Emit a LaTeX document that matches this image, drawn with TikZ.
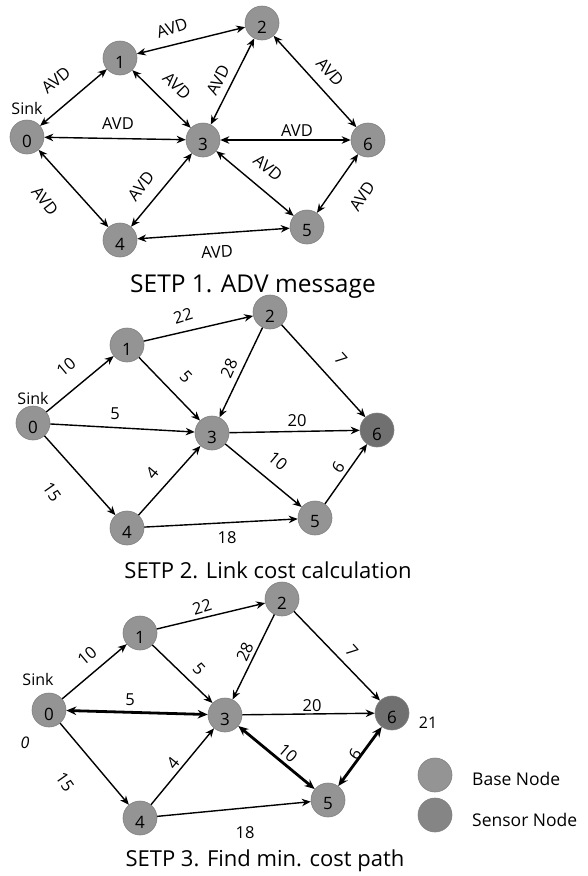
\documentclass[tikz,border=0pt]{standalone}
\usepackage{fontspec}
\setmainfont{Open Sans}
\usetikzlibrary{arrows.meta}
\begin{document}
\begin{tikzpicture}[x=1pt,y=-1pt,
  nd/.style={circle,minimum size=34pt,inner sep=0pt,draw=black!50,line width=0.6pt,fill=black!42},
  ndd/.style={nd,fill=black!56},
  nl/.style={font=\fontsize{17}{17}\selectfont,yshift=-4pt,inner sep=0pt},
  arr/.style={line width=1.4pt,-{Stealth[length=9pt,width=7.5pt]}},
  barr/.style={line width=1.4pt,{Stealth[length=9pt,width=7.5pt]}-{Stealth[length=9pt,width=7.5pt]}},
  tarr/.style={line width=2.8pt,{Stealth[length=10pt,width=8.5pt]}-{Stealth[length=10pt,width=8.5pt]}},
  lbl/.style={font=\fontsize{16.5}{16.5}\selectfont,inner sep=1pt},
  ttl/.style={inner sep=0pt,anchor=base},
  sink/.style={font=\fontsize{16}{16}\selectfont,inner sep=0pt},
  leg/.style={font=\fontsize{17.5}{17.5}\selectfont,inner sep=0pt,anchor=west}]
\fill[white] (0,0) rectangle (587,876);
\useasboundingbox (0,0) rectangle (587,876);

% ---------- Panel 1 ----------
\node[nd,label={[nl]center:0}] (a0) at (27,137) {};
\node[nd,label={[nl]center:1}] (a1) at (120,58) {};
\node[nd,label={[nl]center:2}] (a2) at (262,23) {};
\node[nd,label={[nl]center:3}] (a3) at (203,140) {};
\node[nd,label={[nl]center:4}] (a4) at (120,240) {};
\node[nd,label={[nl]center:5}] (a5) at (307,227) {};
\node[nd,label={[nl]center:6}] (a6) at (368,140) {};
\node[sink] (as) at (27,108) {Sink};
\draw[barr] (a0) -- (a1);
\draw[barr] (a1) -- (a2);
\draw[barr] (a1) -- (a3);
\draw[barr] (a3) -- (a2);
\draw[barr] (a2) -- (a6);
\draw[barr] (a0) -- (a3);
\draw[barr] (a3) -- (a6);
\draw[barr] (a0) -- (a4);
\draw[barr] (a4) -- (a3);
\draw[barr] (a3) -- (a5);
\draw[barr] (a5) -- (a6);
\draw[barr] (a4) -- (a5);
\node[lbl,rotate=40] at (56,80) {AVD};
\node[lbl,rotate=18] at (172,28) {AVD};
\node[lbl,rotate=-45] at (177,86) {AVD};
\node[lbl,rotate=63] at (218,80) {AVD};
\node[lbl,rotate=-48] at (330,72) {AVD};
\node[lbl] at (118,124) {AVD};
\node[lbl] at (297,131) {AVD};
\node[lbl,rotate=-52] at (45,201) {AVD};
\node[lbl,rotate=52] at (141,186) {AVD};
\node[lbl,rotate=-40] at (268,168) {AVD};
\node[lbl,rotate=57] at (362,196) {AVD};
\node[lbl,rotate=3] at (217,252) {AVD};
\node[ttl,font=\fontsize{24.5}{24.5}\selectfont] (t1) at (253,292) {SETP 1. ADV message};

% ---------- Panel 2 ----------
\node[nd,label={[nl]center:0}] (b0) at (33,423) {};
\node[nd,label={[nl]center:1}] (b1) at (127,345) {};
\node[nd,label={[nl]center:2}] (b2) at (270,312) {};
\node[nd,label={[nl]center:3}] (b3) at (212,433) {};
\node[nd,label={[nl]center:4}] (b4) at (127,528) {};
\node[nd,label={[nl]center:5}] (b5) at (315,518) {};
\node[ndd,label={[nl]center:6}] (b6) at (377,430) {};
\node[sink] (bs) at (33,398) {Sink};
\draw[arr] (b0) -- (b1);
\draw[arr] (b1) -- (b2);
\draw[arr] (b1) -- (b3);
\draw[arr] (b2) -- (b3);
\draw[arr] (b2) -- (b6);
\draw[arr] (b0) -- (b3);
\draw[arr] (b3) -- (b6);
\draw[arr] (b3) -- (b5);
\draw[arr] (b0) -- (b4);
\draw[arr] (b4) -- (b3);
\draw[arr] (b4) -- (b5);
\draw[arr] (b5) -- (b6);
\node[lbl,rotate=17] at (183,316) {22};
\node[lbl,rotate=40] at (66,367) {10};
\node[lbl,rotate=-46] at (186,377) {5};
\node[lbl,rotate=66] at (229,368) {28};
\node[lbl,rotate=-48] at (341,359) {7};
\node[lbl] at (115,414) {5};
\node[lbl] at (297,421) {20};
\node[lbl,rotate=-40] at (278,461) {10};
\node[lbl,rotate=56] at (338,467) {6};
\node[lbl,rotate=-55] at (52,492) {15};
\node[lbl,rotate=50] at (152,473) {4};
\node[lbl] at (227,538) {18};
\node[ttl,font=\fontsize{22}{22}\selectfont] (t2) at (268,578) {SETP 2. Link cost calculation};

% ---------- Panel 3 ----------
\node[nd,label={[nl]center:0}] (c0) at (49,710) {};
\node[nd,label={[nl]center:1}] (c1) at (140,633) {};
\node[nd,label={[nl]center:2}] (c2) at (282,599) {};
\node[nd,label={[nl]center:3}] (c3) at (225,715) {};
\node[nd,label={[nl]center:4}] (c4) at (140,818) {};
\node[nd,label={[nl]center:5}] (c5) at (328,800) {};
\node[ndd,label={[nl]center:6}] (c6) at (392,713) {};
\node[sink] (cs) at (38,679) {Sink};
\node[sink] (cz) at (25,743) {\itshape 0};
\node[sink] (c21) at (428,723) {21};
\draw[arr] (c0) -- (c1);
\draw[arr] (c1) -- (c2);
\draw[arr] (c1) -- (c3);
\draw[arr] (c2) -- (c3);
\draw[arr] (c2) -- (c6);
\draw[arr] (c3) -- (c6);
\draw[arr] (c0) -- (c4);
\draw[arr] (c4) -- (c3);
\draw[arr] (c4) -- (c5);
\draw[tarr] (c0) -- (c3);
\draw[tarr] (c3) -- (c5);
\draw[tarr] (c5) -- (c6);
\node[lbl,rotate=17] at (202,607) {22};
\node[lbl,rotate=40] at (87,656) {10};
\node[lbl,rotate=-47] at (199,669) {5};
\node[lbl,rotate=67] at (245,652) {28};
\node[lbl,rotate=-48] at (352,651) {7};
\node[lbl] at (130,700) {5};
\node[lbl] at (312,706) {20};
\node[lbl,rotate=-41] at (288,753) {10};
\node[lbl,rotate=57] at (355,754) {6};
\node[lbl,rotate=-55] at (65,782) {15};
\node[lbl,rotate=51] at (173,763) {4};
\node[lbl] at (245,833) {18};
\node[ttl,font=\fontsize{22}{22}\selectfont] (t3) at (265,866) {SETP 3. Find min. cost path};

% legend
\node[nd] (lg1) at (435,775) {};
\node[nd,fill=black!48] (lg2) at (435,815) {};
\node[leg] (lt1) at (472,779) {Base Node};
\node[leg] (lt2) at (472,820) {Sensor Node};
\end{tikzpicture}
\end{document}
